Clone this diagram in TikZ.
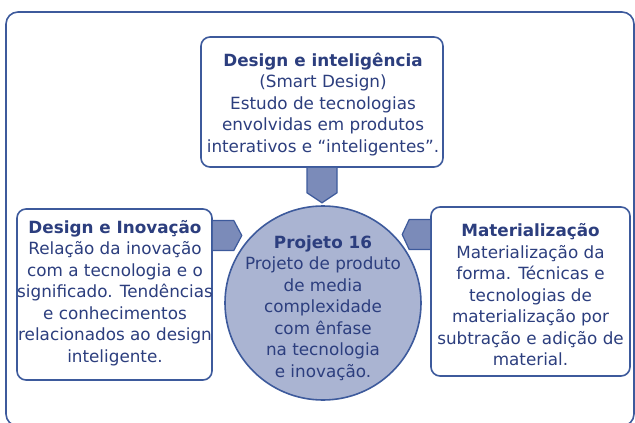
\documentclass[tikz,border=0pt]{standalone}
\usepackage{fontspec}
\setmainfont{DejaVu Sans}
\usetikzlibrary{shapes.geometric,calc}
\definecolor{bordc}{HTML}{3D5A9C}
\definecolor{txtc}{HTML}{2C3E7E}
\definecolor{arrc}{HTML}{7B8BB9}
\definecolor{circc}{HTML}{AAB4D2}
\tikzset{
  boxshape/.style={draw=bordc, line width=1.6pt, rounded corners=9pt, fill=white, rectangle, inner sep=0pt},
  txt/.style={text=txtc, align=center, inner sep=0pt, font=\fontsize{16.8}{21.5}\selectfont},
  conn/.style={draw=bordc, fill=arrc, line width=1.2pt, line join=miter},
}
\begin{document}
\begin{tikzpicture}[x=1pt,y=-1pt]
\useasboundingbox (0,0) rectangle (635,423);
\draw[draw=bordc, line width=1.6pt, rounded corners=12pt] (6,12) rectangle (634,426);
% boxes
\node[boxshape, minimum width=242pt, minimum height=130pt] (top) at (322,102) {};
\node[boxshape, minimum width=195pt, minimum height=171pt] (left) at (114.5,294.5) {};
\node[boxshape, minimum width=199pt, minimum height=169pt] (right) at (530.5,291.5) {};
\node[ellipse, draw=bordc, fill=circc, line width=1.6pt, minimum width=196pt, minimum height=194pt, inner sep=0pt] (circ) at (323,303) {};
% connectors
\draw[conn] ($(top.south)+(-15,0)$) -- ($(top.south)+(-15,25)$) -- ($(top.south)+(0,35)$) -- ($(top.south)+(15,25)$) -- ($(top.south)+(15,0)$);
\draw[conn] ($(left.east)+(0,-74)$) -- ($(left.east)+(21,-74)$) -- ($(left.east)+(29,-59)$) -- ($(left.east)+(21,-44)$) -- ($(left.east)+(0,-44)$);
\draw[conn] ($(right.west)+(0,-72)$) -- ($(right.west)+(-21,-72)$) -- ($(right.west)+(-28,-57)$) -- ($(right.west)+(-21,-42)$) -- ($(right.west)+(0,-42)$);
% texts
\node[txt] (toptxt) at (323,104.5) {\textbf{Design e inteligência}\\(Smart Design)\\Estudo de tecnologias\\envolvidas em produtos\\interativos e “inteligentes”.};
\node[txt] (lefttxt) at (115,293) {\textbf{Design e Inovação}\\Relação da inovação\\com a tecnologia e o\\significado. Tendências\\e conhecimentos\\relacionados ao design\\inteligente.};
\node[txt] (righttxt) at (530.5,295) {\textbf{Materialização}\\Materialização da\\forma. Técnicas e\\tecnologias de\\materialização por\\subtração e adição de\\material.};
\node[txt] (circtxt) at (323,308) {\textbf{Projeto 16}\\Projeto de produto\\de media\\complexidade\\com ênfase\\na tecnologia\\e inovação.};
\end{tikzpicture}
\end{document}
